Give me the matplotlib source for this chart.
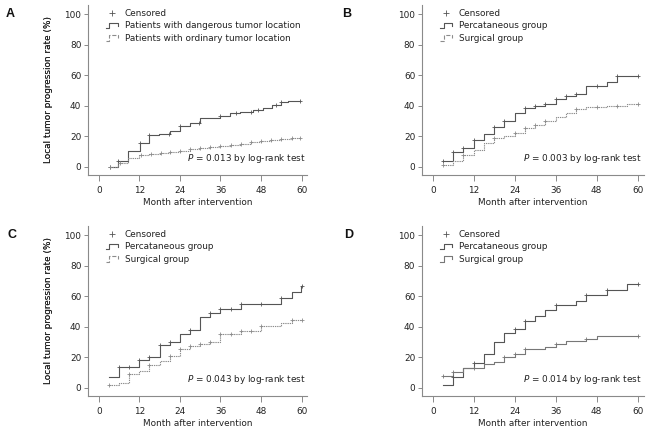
import numpy as np
import matplotlib
matplotlib.use("Agg")
import matplotlib.pyplot as plt
from matplotlib.lines import Line2D
from matplotlib.legend_handler import HandlerBase

plt.rcParams['font.family'] = ['DejaVu Sans']

# ---- data ----
# panel A
a_dang_t = [3.2, 5.8, 8.8, 12.2, 15, 17.9, 21.1, 24, 27, 30, 35.9, 38.8, 41.8, 45.7, 48.7, 51.1, 54, 56, 59.6]
a_dang_v = [0, 3.9, 10.5, 15.7, 20.8, 21.3, 23.4, 26.6, 28.8, 32.1, 33.2, 34.9, 35.8, 37, 38.5, 40.7, 42.2, 43, 43]
a_dang_c = [3.2, 5.8, 12.2, 15, 20.9, 24, 29.7, 36, 40.5, 45, 47, 52.5, 54, 59.6]
a_ord_t = [3.3, 5.6, 8.8, 12, 15, 18, 21, 24, 27, 30, 33, 36, 39, 42, 45, 48, 51, 54, 57, 59.6]
a_ord_v = [0, 2.4, 5.4, 7.5, 8.2, 9, 9.5, 10.6, 11.3, 12, 12.7, 13.4, 14.2, 14.8, 15.9, 16.6, 17.4, 18.1, 18.8, 19.0]
a_ord_c = [3.2, 6.2, 12.5, 15.5, 18.5, 21, 24, 27, 30, 33, 36, 39, 42, 45, 48, 51, 54, 57, 59.6]

# panel B
b_perc_t = [3, 6, 9, 12, 15, 18, 21, 24, 27, 30, 33, 36, 39, 42, 45, 51, 54, 60]
b_perc_v = [3.9, 9.6, 12.3, 17.3, 21.2, 26, 29.9, 35.3, 38.2, 39.7, 41, 44.3, 46.3, 47.8, 52.9, 55.3, 59.4, 59.4]
b_perc_c = [3, 6, 9, 12, 18, 21, 27, 30, 33, 36, 39, 42, 48, 54, 60]
b_surg_t = [3, 6, 9, 12, 15, 18, 21, 24, 27, 30, 33, 36, 39, 42, 45, 51, 57, 60]
b_surg_v = [1, 3.9, 7.6, 10.9, 15.3, 19, 20, 22.3, 25.1, 27.3, 30.1, 32.3, 35, 37.6, 38.9, 39.8, 40.8, 40.8]
b_surg_c = [3, 9, 18, 24, 27, 30, 33, 42, 48, 54, 60]

# panel C
c_perc_t = [3, 6, 12, 15, 18, 21, 24, 27, 30, 33, 36, 42, 54, 57, 59.8, 60]
c_perc_v = [7, 13.6, 18, 20.3, 27.8, 30, 35.3, 38, 46.5, 49, 51.3, 55, 58.5, 62.5, 66.5, 66.5]
c_perc_c = [6, 9, 12, 15, 18, 21, 27, 33, 36, 39, 42, 48, 54, 60]
c_surg_t = [3, 6, 9, 12, 15, 18, 21, 24, 27, 30, 33, 36, 42, 48, 54, 57, 60]
c_surg_v = [1.6, 3.3, 8.8, 11.2, 15, 17.6, 21, 25.4, 27, 28.4, 30, 35, 37, 40.4, 42.6, 44.6, 44.6]
c_surg_c = [3, 9, 15, 21, 24, 27, 30, 33, 36, 39, 42, 45, 48, 57, 60]

# panel D
d_perc_t = [3, 6, 9, 12, 15, 18, 21, 24, 27, 30, 33, 36, 42, 45, 51, 57, 60]
d_perc_v = [1.5, 6.8, 13, 16, 21.8, 29.7, 35.6, 38.5, 44, 47, 50.6, 54.2, 57, 60.7, 64, 67.9, 67.9]
d_perc_c = [6, 12, 24, 27, 36, 45, 51, 60]
d_surg_t = [3, 6, 9, 15, 18, 21, 24, 27, 33, 36, 39, 45, 48, 60]
d_surg_v = [7.7, 10.5, 13.1, 15.3, 16.6, 20, 21.9, 25.2, 26.4, 28.4, 30.6, 31.9, 33.9, 33.9]
d_surg_c = [3, 6, 12, 21, 24, 27, 36, 45, 60]

p_texts = ['0.013', '0.003', '0.043', '0.014']
letters = ['A', 'B', 'C', 'D']
legend_labels = [
    ['Patients with dangerous tumor location', 'Patients with ordinary tumor location'],
    ['Percataneous group', 'Surgical group'],
    ['Percataneous group', 'Surgical group'],
    ['Percataneous group', 'Surgical group'],
]

panels = [
    (a_dang_t, a_dang_v, a_dang_c, a_ord_t, a_ord_v, a_ord_c),
    (b_perc_t, b_perc_v, b_perc_c, b_surg_t, b_surg_v, b_surg_c),
    (c_perc_t, c_perc_v, c_perc_c, c_surg_t, c_surg_v, c_surg_c),
    (d_perc_t, d_perc_v, d_perc_c, d_surg_t, d_surg_v, d_surg_c),
]

C1 = '#555555'   # solid curve
C2 = '#8c8c8c'   # dotted curve
SPINE = '#8a8a8a'
TXT = '#222222'
FS = 6.4


class StepHandler(HandlerBase):
    # small step-shaped legend key like in the original figure
    def create_artists(self, legend, orig_handle, xdescent, ydescent,
                       width, height, fontsize, trans):
        xs = np.array([0, 0.3, 0.3, 1.0, 1.0]) * width - xdescent
        ys = np.array([0.0, 0.0, 0.95, 0.95, 0.45]) * height - ydescent
        ln = Line2D(xs, ys, color=orig_handle.get_color(),
                    linestyle=orig_handle.get_linestyle(), lw=0.8)
        ln.set_transform(trans)
        return [ln]


def step_val(t, v, x):
    i = np.searchsorted(t, x, side='right') - 1
    return np.asarray(v)[np.clip(i, 0, len(v) - 1)]


W, H = 654, 432
fig = plt.figure(figsize=(W / 100, H / 100), dpi=100)

xlim = (-3.1, 61.7)
ylim = (-5.5, 106)
# pixel geometry: (x of month 0, px per month, y of 0 %, px per %)
geo = [(98.7, 3.383, 166.7, 1.527), (432.7, 3.417, 166.7, 1.527),
       (98.7, 3.383, 387.7, 1.527), (432.7, 3.417, 387.7, 1.527)]
letter_pos = [(10, 14), (347, 14), (12, 235), (349, 235)]

for k, (t1, v1, c1, t2, v2, c2) in enumerate(panels):
    x0, sx, y0, sy = geo[k]
    left = x0 + xlim[0] * sx
    width = (xlim[1] - xlim[0]) * sx
    bottom = y0 - ylim[0] * sy
    height = (ylim[1] - ylim[0]) * sy
    ax = fig.add_axes([left / W, (H - bottom) / H, width / W, height / H])

    ls2 = '-' if k == 3 else (0, (1.2, 0.8))
    col2 = '#777777' if k == 3 else C2
    ax.step(t1, v1, where='post', color=C1, lw=0.8)
    ax.step(t2, v2, where='post', color=col2, lw=0.8, linestyle=ls2)
    ax.plot(c1, step_val(t1, v1, c1), '+', color=C1, ms=3.5, mew=0.6)
    ax.plot(c2, step_val(t2, v2, c2), '+', color=col2, ms=3.5, mew=0.6)

    ax.set_xlim(xlim)
    ax.set_ylim(ylim)
    ax.set_xticks([0, 12, 24, 36, 48, 60])
    ax.set_yticks([0, 20, 40, 60, 80, 100])
    for s in ['top', 'right']:
        ax.spines[s].set_visible(False)
    for s in ['left', 'bottom']:
        ax.spines[s].set_color(SPINE)
        ax.spines[s].set_linewidth(0.8)
    ax.tick_params(axis='x', direction='out', length=4, width=0.7, color=SPINE,
                   pad=4, labelsize=FS, labelcolor=TXT)
    ax.tick_params(axis='y', direction='out', length=3, width=0.7, color=SPINE,
                   pad=2, labelsize=FS, labelcolor=TXT)

    ax.set_xlabel('Month after intervention', fontsize=FS, color=TXT)
    ax.set_ylabel('Local tumor progression rate (%)', fontsize=FS, color=TXT)
    ax.xaxis.set_label_coords(0.5, -22.5 / height)
    ax.yaxis.set_label_coords(-(left - 53.5) / width, 0.5)

    ax.text(0.99, 0.1, r'$\it{P}$ = ' + p_texts[k] + ' by log-rank test',
            transform=ax.transAxes, ha='right', va='center', fontsize=FS, color=TXT)

    handles = [Line2D([], [], marker='+', linestyle='none', color=C1, ms=4, mew=0.6),
               Line2D([], [], color=C1, linestyle='-'),
               Line2D([], [], color=col2, linestyle=ls2)]
    labels = ['Censored'] + legend_labels[k]
    ax.legend(handles, labels, loc='upper left', bbox_to_anchor=(0.08, 0.975),
              frameon=False, fontsize=FS, handlelength=1.4, handletextpad=0.75,
              labelspacing=0.38, borderpad=0, borderaxespad=0,
              handler_map={handles[1]: StepHandler(), handles[2]: StepHandler()},
              labelcolor=TXT)

    lx, ly = letter_pos[k]
    fig.text(lx / W, 1 - ly / H, letters[k], ha='center', va='center',
             fontsize=9, fontweight='bold', family='Liberation Sans', color='#111111')

fig.savefig('out.png', dpi=100)
